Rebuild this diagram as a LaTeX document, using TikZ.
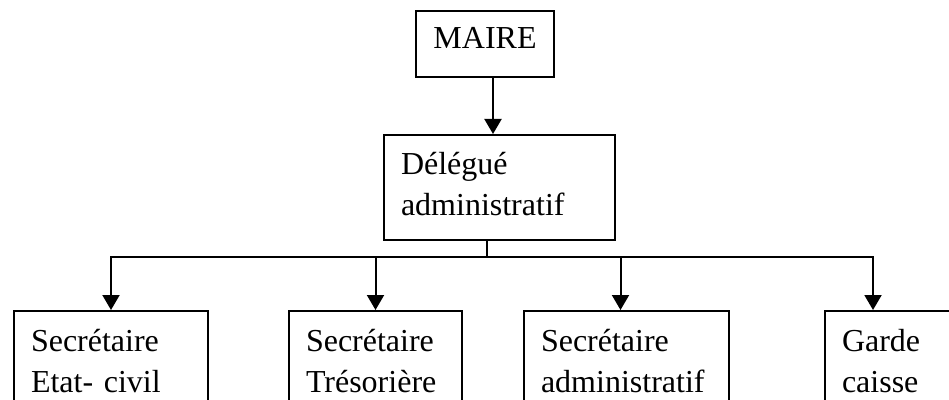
\documentclass[tikz,border=0pt]{standalone}
\usepackage{fontspec}
\setmainfont{Liberation Serif}
\usepackage{tikz}
\usetikzlibrary{arrows.meta, positioning}
\tikzset{
    chef box/.style={rectangle, draw=black, line width=2pt, minimum width=138pt, inner sep=0pt,
        text height=38pt, text depth=28pt, align=center, font=\fontsize{32}{41}\selectfont},
    poste box/.style={rectangle, draw=black, line width=2pt, inner xsep=17pt, inner ysep=0pt,
        align=left, font=\fontsize{32}{41}\selectfont,
        execute at begin node={\rule{0pt}{40pt}}, execute at end node={\rule[-24pt]{0pt}{24pt}}},
    link style/.style={line width=2pt, black, line cap=rect},
    arrow style/.style={-{Triangle[length=15pt, width=17pt]}, line width=2pt, black},
}

\begin{document}
\begin{tikzpicture}[x=1pt, y=1pt, node distance=56pt]
        \useasboundingbox (0,0) rectangle (949,399);
        \clip (0,0) rectangle (949,399);

        % Nodes
        \node[chef box, anchor=north west] (maire) at (415,389) {MAIRE};
        \node[poste box, text width=197pt, below=56pt of maire.south west, anchor=north west, xshift=-32pt] (delegue) {Délégué\\administratif};

        \node[poste box, text width=160pt, anchor=north west] (secetat) at (13,89) {Secrétaire\\Etat- civil};
        \node[poste box, text width=139pt, right=79pt of secetat] (tresoriere) {Secrétaire\\Trésorière};
        \node[poste box, text width=171pt, right=60pt of tresoriere] (secadmin) {Secrétaire\\administratif};
        \node[poste box, text width=166pt, right=94pt of secadmin] (garde) {Garde\\caisse};

        % Branch points
        \coordinate[xshift=8pt] (maireout) at (maire.south);
        \coordinate (split) at (487,142);
        \coordinate[xshift=-6pt] (adminin) at (secadmin.north);
        \coordinate[xshift=49pt] (gardein) at (garde.north west);

        % Arrows
        \draw[arrow style] (maireout) -- (maireout |- delegue.north);
        \draw[link style] (delegue.south -| split) -- (split);
        \draw[link style] (split -| secetat.north) -- (split -| gardein);
        \draw[arrow style] (split -| secetat.north) -- (secetat.north);
        \draw[arrow style] (split -| tresoriere.north) -- (tresoriere.north);
        \draw[arrow style] (split -| adminin) -- (adminin);
        \draw[arrow style] (split -| gardein) -- (gardein);
    \end{tikzpicture}
\end{document}
